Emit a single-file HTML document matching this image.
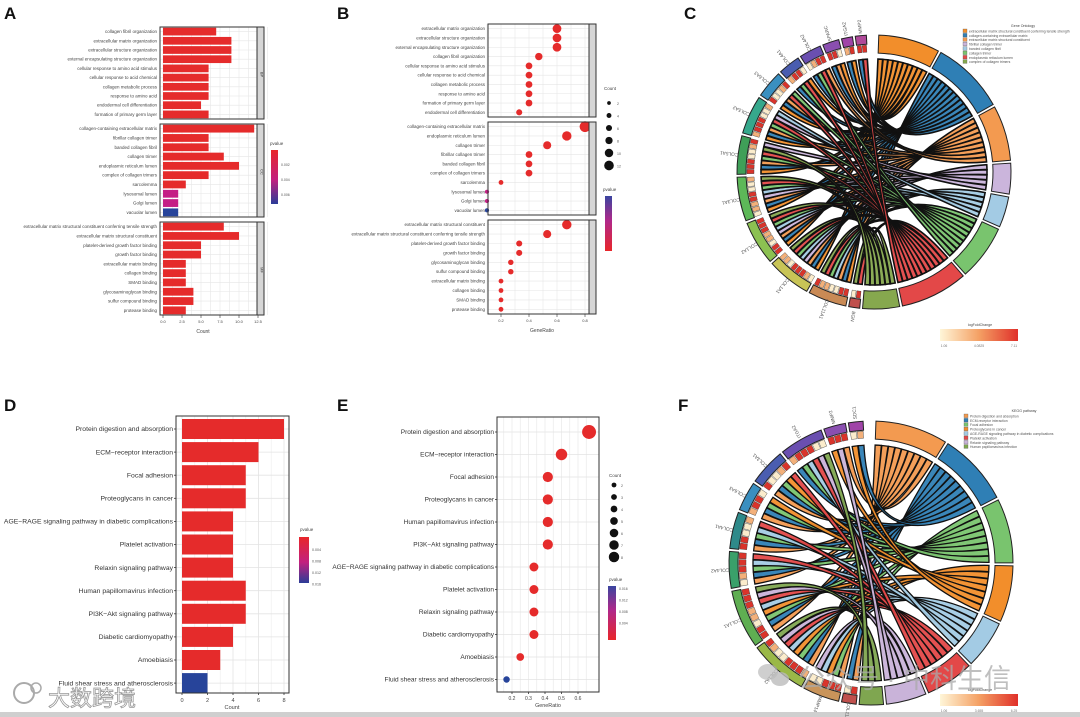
<!DOCTYPE html>
<html><head><meta charset="utf-8">
<style>
html,body{margin:0;padding:0;background:#fff;}
svg{display:block;font-family:"Liberation Sans","Noto Sans CJK SC",sans-serif;}
</style></head>
<body>
<svg id="fig" width="1080" height="717" viewBox="0 0 1080 717">
<defs>
<linearGradient id="gRB" x1="0" y1="0" x2="0" y2="1"><stop offset="0" stop-color="#e8262a"/><stop offset="0.55" stop-color="#c2207f"/><stop offset="1" stop-color="#2b3c97"/></linearGradient>
<linearGradient id="gBR" x1="0" y1="0" x2="0" y2="1"><stop offset="0" stop-color="#3a45a0"/><stop offset="0.45" stop-color="#b0288a"/><stop offset="1" stop-color="#e8262a"/></linearGradient>
<linearGradient id="gFC" x1="0" y1="0" x2="1" y2="0"><stop offset="0" stop-color="#fff6d8"/><stop offset="0.5" stop-color="#f4a064"/><stop offset="1" stop-color="#e0302a"/></linearGradient>
</defs>
<rect x="0" y="0" width="1080" height="717" fill="#fff"/>
<rect x="0" y="712" width="1080" height="5" fill="#cfcfcf"/>
<g font-weight="bold" font-size="17" fill="#111">
<text x="4" y="19">A</text>
<text x="337" y="19">B</text>
<text x="684" y="19">C</text>
<text x="4" y="411">D</text>
<text x="337" y="411">E</text>
<text x="678" y="411">F</text>
</g>
<g id="layer"></g>
</svg>
<script>
// ---------- DATA ----------
const aLabelsBP=["collagen fibril organization","extracellular matrix organization","extracellular structure organization","external encapsulating structure organization","cellular response to amino acid stimulus","cellular response to acid chemical","collagen metabolic process","response to amino acid","endodermal cell differentiation","formation of primary germ layer"];
const aValuesBP=[7,9,9,9,6,6,6,6,5,6];
const aLabelsCC=["collagen-containing extracellular matrix","fibrillar collagen trimer","banded collagen fibril","collagen trimer","endoplasmic reticulum lumen","complex of collagen trimers","sarcolemma","lysosomal lumen","Golgi lumen","vacuolar lumen"];
const aValuesCC=[12,6,6,8,10,6,3,2,2,2];
const aColorsCC=["r","r","r","r","r","r","r","m","m","b"];
const aLabelsMF=["extracellular matrix structural constituent conferring tensile strength","extracellular matrix structural constituent","platelet-derived growth factor binding","growth factor binding","extracellular matrix binding","collagen binding","SMAD binding","glycosaminoglycan binding","sulfur compound binding","protease binding"];
const aValuesMF=[8,10,5,5,3,3,3,4,4,3];
const aTicks=[0,2.5,5,7.5,10,12.5];
const aTickLabels=["0.0","2.5","5.0","7.5","10.0","12.5"];

const bLabelsBP=["extracellular matrix organization","extracellular structure organization","external encapsulating structure organization","collagen fibril organization","cellular response to amino acid stimulus","cellular response to acid chemical","collagen metabolic process","response to amino acid","formation of primary germ layer","endodermal cell differentiation"];
const bRatioBP=[0.6,0.6,0.6,0.47,0.4,0.4,0.4,0.4,0.4,0.33];
const bCountBP=[9,9,9,7,6,6,6,6,6,5];
const bLabelsCC=["collagen-containing extracellular matrix","endoplasmic reticulum lumen","collagen trimer","fibrillar collagen trimer","banded collagen fibril","complex of collagen trimers","sarcolemma","lysosomal lumen","Golgi lumen","vacuolar lumen"];
const bRatioCC=[0.8,0.67,0.53,0.4,0.4,0.4,0.2,0.1,0.1,0.1];
const bCountCC=[12,10,8,6,6,6,3,2,2,2];
const bColorsCC=["r","r","r","r","r","r","r","m","m","b"];
const bLabelsMF=["extracellular matrix structural constituent","extracellular matrix structural constituent conferring tensile strength","platelet-derived growth factor binding","growth factor binding","glycosaminoglycan binding","sulfur compound binding","extracellular matrix binding","collagen binding","SMAD binding","protease binding"];
const bRatioMF=[0.67,0.53,0.33,0.33,0.27,0.27,0.2,0.2,0.2,0.2];
const bCountMF=[10,8,5,5,4,4,3,3,3,3];
const bTicks=[0.2,0.4,0.6,0.8];

const dLabels=["Protein digestion and absorption","ECM\u2212receptor interaction","Focal adhesion","Proteoglycans in cancer","AGE\u2212RAGE signaling pathway in diabetic complications","Platelet activation","Relaxin signaling pathway","Human papillomavirus infection","PI3K\u2212Akt signaling pathway","Diabetic cardiomyopathy","Amoebiasis","Fluid shear stress and atherosclerosis"];
const dValues=[8,6,5,5,4,4,4,5,5,4,3,2];
const dColors=["r","r","r","r","r","r","r","r","r","r","r","b"];
const dTicks=[0,2,4,6,8];

const eLabels=["Protein digestion and absorption","ECM\u2212receptor interaction","Focal adhesion","Proteoglycans in cancer","Human papillomavirus infection","PI3K\u2212Akt signaling pathway","AGE\u2212RAGE signaling pathway in diabetic complications","Platelet activation","Relaxin signaling pathway","Diabetic cardiomyopathy","Amoebiasis","Fluid shear stress and atherosclerosis"];
const eRatio=[0.667,0.5,0.417,0.417,0.417,0.417,0.333,0.333,0.333,0.333,0.25,0.167];
const eCount=[8,6,5,5,5,5,4,4,4,4,3,2];
const eColors=["r","r","r","r","r","r","r","r","r","r","r","b"];
const eTicks=[0.2,0.3,0.4,0.5,0.6];

const cTermColors=["#f28e2b","#2f7fb5","#f39a50","#cbb5dc","#a3cbe4","#79c46e","#e34848","#86a84e"];
const cTermNames=["extracellular matrix structural constituent conferring tensile strength","collagen-containing extracellular matrix","extracellular matrix structural constituent","fibrillar collagen trimer","banded collagen fibril","collagen trimer","endoplasmic reticulum lumen","complex of collagen trimers"];
const cGenes=["BGN","COL11A1","COL1A1","COL1A2","COL3A1","COL5A1","COL5A2","COL6A3","COL4A1","COL4A2","SPARC","ITGA2","MMP2"];
const cGeneColors=["#c0504d","#c98a55","#c8c456","#8cc152","#5db858","#3f9f58","#36a88c","#3a8fc0","#4a5db0","#6a4fb0","#8a4fb0","#a044a8","#b04a9a"];
const cGeneTerms=[[6,7],[0,1,2,4,5,6,7],[0,1,2,3,4,5,6,7],[0,1,2,3,4,5,6,7],[0,1,2,3,4,5,6,7],[0,1,2,5,6,7,3],[0,1,2,5,6,3,4],[0,1,2,6,5],[1,5,6,0],[1,5,6,2],[1,2,0],[1,0],[1,6]];
const cLogFC=[0.9,0.7,0.3,0.8,0.2,0.6,0.4,0.9,0.5,0.3,0.7,0.5,0.8];

const fTermColors=["#f39a50","#2f7fb5","#79c46e","#f28e2b","#a3cbe4","#e34848","#c9b3d9","#7fa650"];
const fTermNames=["Protein digestion and absorption","ECM-receptor interaction","Focal adhesion","Proteoglycans in cancer","AGE-RAGE signaling pathway in diabetic complications","Platelet activation","Relaxin signaling pathway","Human papillomavirus infection"];
const fGenes=["COL11A1","MMP14","COL1A2","COL1A1","COL4A2","COL4A1","COL6A3","COL3A1","ITGA2","MMP2","SDC1"];
const fGeneColors=["#c0504d","#c9945a","#9ab848","#5fae52","#3aa06a","#2e8a8a","#3a8fc0","#4a5db0","#6a4fb0","#8a4fb0","#a044a8"];
const fGeneTerms=[[0,1],[0,2,3,4,6],[0,1,2,3,4,5,6,7],[0,1,2,3,4,5,6,7],[0,1,2,4,5],[0,1,2,4,5],[0,1,2,3],[0,1,2,3,5],[1,2,4,5,6,7],[3,6,0],[3,1]];
const fLogFC=[0.9,0.6,0.4,0.8,0.3,0.7,0.5,0.9,0.4,0.6,0.3];

// ---------- HELPERS ----------
const NS="http://www.w3.org/2000/svg";
const layer=document.getElementById("layer");
function mk(tag,attrs,parent){const e=document.createElementNS(NS,tag);for(const k in attrs)e.setAttribute(k,attrs[k]);(parent||layer).appendChild(e);return e;}
function txt(x,y,s,size,anchor,parent,fill){const t=mk("text",{x:x,y:y,"font-size":size,"text-anchor":anchor||"start",fill:fill||"#333"},parent);t.textContent=s;return t;}
const COL={r:"#e52b2b",m:"#c41f85",b:"#27449a"};

function panelA(){
  const g=mk("g",{});
  
  
  const x0=160,x1=257,xs=v=>163+v*7.6;
  const facets=[[27,119,aLabelsBP,aValuesBP,null,"BP"],[124,217,aLabelsCC,aValuesCC,aColorsCC,"CC"],[222,315,aLabelsMF,aValuesMF,null,"MF"]];
  facets.forEach(f=>{
    const [y0,y1,labs,vals,cols,nm]=f;
    const fg=mk("g",{},g);
    
    
    mk("rect",{x:x0,y:y0,width:x1-x0,height:y1-y0,fill:"#fff"},fg);
    for(let v=0;v<=13.75;v+=1.25){mk("line",{x1:xs(v),x2:xs(v),y1:y0,y2:y1,stroke:"#e6e6e6","stroke-width":0.6},fg);}
    const h=(y1-y0)/labs.length;
    labs.forEach((l,i)=>{
      const yc=y0+(i+0.5)*h;
      mk("line",{x1:x0,x2:x1,y1:yc,y2:yc,stroke:"#e6e6e6","stroke-width":0.6},fg);
      const r=mk("rect",{x:xs(0),y:yc-h*0.42,width:xs(vals[i])-xs(0),height:h*0.84,fill:COL[cols?cols[i]:"r"]},fg);
      
      
      txt(x0-3,yc+1.5,l,4.5,"end",fg,"#444");
    });
    mk("rect",{x:x0,y:y0,width:x1-x0,height:y1-y0,fill:"none",stroke:"#333","stroke-width":1},fg);
    mk("rect",{x:x1,y:y0,width:7,height:y1-y0,fill:"#d6d6d6",stroke:"#333","stroke-width":1},fg);
    const st=txt(x1+5,(y0+y1)/2,nm,4,"middle",fg,"#333");st.setAttribute("transform",`rotate(90 ${x1+3.5} ${(y0+y1)/2})`);
  });
  aTicks.forEach((t,i)=>{mk("line",{x1:xs(t),x2:xs(t),y1:315,y2:318,stroke:"#333","stroke-width":0.6},g);txt(xs(t),323,aTickLabels[i],4,"middle",g,"#444");});
  txt(203,333,"Count",5,"middle",g,"#444");
  txt(270,145,"pvalue",4.5,"start",g,"#444");
  const cb=mk("rect",{x:271,y:150,width:7,height:54,fill:"url(#gRB)"},g);
  
  ["0.002","0.004","0.006"].forEach((s,i)=>txt(281,166+i*15,s,3.5,"start",g,"#555"));
}

function panelB(){
  const g=mk("g",{});
  
  
  const x0=488,x1=589,xs=v=>501+(v-0.2)*140;
  const rs=c=>1.4+c*0.33;
  const facets=[[24,117,bLabelsBP,bRatioBP,bCountBP,null,"BP"],[122,215,bLabelsCC,bRatioCC,bCountCC,bColorsCC,"CC"],[220,314,bLabelsMF,bRatioMF,bCountMF,null,"MF"]];
  facets.forEach(f=>{
    const [y0,y1,labs,rat,cnt,cols,nm]=f;
    const fg=mk("g",{},g);
    
    
    for(let v=0.1;v<=0.85;v+=0.1){mk("line",{x1:xs(v),x2:xs(v),y1:y0,y2:y1,stroke:"#e6e6e6","stroke-width":0.6},fg);}
    const h=(y1-y0)/labs.length;
    labs.forEach((l,i)=>{
      const yc=y0+(i+0.5)*h;
      mk("line",{x1:x0,x2:x1,y1:yc,y2:yc,stroke:"#e6e6e6","stroke-width":0.6},fg);
      const c=mk("circle",{cx:xs(rat[i]),cy:yc,r:rs(cnt[i]),fill:COL[cols?cols[i]:"r"]},fg);
      
      
      txt(x0-3,yc+1.5,l,4.5,"end",fg,"#444");
    });
    mk("rect",{x:x0,y:y0,width:x1-x0,height:y1-y0,fill:"none",stroke:"#333","stroke-width":1},fg);
    mk("rect",{x:x1,y:y0,width:7,height:y1-y0,fill:"#d6d6d6",stroke:"#333","stroke-width":1},fg);
  });
  bTicks.forEach(t=>{mk("line",{x1:xs(t),x2:xs(t),y1:314,y2:317,stroke:"#333","stroke-width":0.6},g);txt(xs(t),322,t.toFixed(1),4,"middle",g,"#444");});
  txt(542,332,"GeneRatio",5,"middle",g,"#444");
  txt(604,90,"Count",4.5,"start",g,"#444");
  [2,4,6,8,10,12].forEach((c,i)=>{mk("circle",{cx:609,cy:103+i*12.5,r:rs(c)*0.9,fill:"#111"},g);txt(617,105+i*12.5,String(c),3.5,"start",g,"#555");});
  txt(603,191,"pvalue",4.5,"start",g,"#444");
  const cb=mk("rect",{x:605,y:196,width:7,height:55,fill:"url(#gBR)"},g);
  
}

function panelD(){
  const g=mk("g",{});
  
  
  const x0=176,x1=289,y0=416,y1=693,xs=v=>182+v*12.75;
  const ys=i=>429+i*23.1;
  for(let v=0;v<=8.5;v+=1){mk("line",{x1:xs(v),x2:xs(v),y1:y0,y2:y1,stroke:v%2?"#f0f0f0":"#e3e3e3","stroke-width":0.8},g);}
  dLabels.forEach((l,i)=>{
    mk("line",{x1:x0,x2:x1,y1:ys(i),y2:ys(i),stroke:"#e3e3e3","stroke-width":0.8},g);
    const r=mk("rect",{x:xs(0),y:ys(i)-10,width:xs(dValues[i])-xs(0),height:20,fill:COL[dColors[i]]},g);
    
    
    mk("line",{x1:x0-2,x2:x0,y1:ys(i),y2:ys(i),stroke:"#333","stroke-width":0.8},g);
    txt(x0-3,ys(i)+2.2,l,6.8,"end",g,"#333");
  });
  mk("rect",{x:x0,y:y0,width:x1-x0,height:y1-y0,fill:"none",stroke:"#333","stroke-width":1},g);
  dTicks.forEach(t=>{mk("line",{x1:xs(t),x2:xs(t),y1:y1,y2:y1+2,stroke:"#333","stroke-width":0.8},g);txt(xs(t),y1+9,String(t),5.6,"middle",g,"#444");});
  txt(232,709,"Count",5.6,"middle",g,"#444");
  txt(300,531,"pvalue",4.5,"start",g,"#444");
  const cb=mk("rect",{x:299,y:537,width:10,height:46,fill:"url(#gRB)"},g);
  
  ["0.004","0.008","0.012","0.016"].forEach((s,i)=>txt(312,551+i*11.5,s,3.6,"start",g,"#555"));
}

function panelE(){
  const g=mk("g",{});
  
  
  const x0=497,x1=599,y0=417,y1=692,xs=v=>512+(v-0.2)*165;
  const ys=i=>432+i*22.5, rs=c=>2+c*0.62;
  for(let v=0.15;v<=0.7;v+=0.05){mk("line",{x1:xs(v),x2:xs(v),y1:y0,y2:y1,stroke:"#e8e8e8","stroke-width":0.7},g);}
  eLabels.forEach((l,i)=>{
    mk("line",{x1:x0,x2:x1,y1:ys(i),y2:ys(i),stroke:"#e3e3e3","stroke-width":0.8},g);
    const c=mk("circle",{cx:xs(eRatio[i]),cy:ys(i),r:rs(eCount[i]),fill:COL[eColors[i]]},g);
    
    
    mk("line",{x1:x0-2,x2:x0,y1:ys(i),y2:ys(i),stroke:"#333","stroke-width":0.8},g);
    txt(x0-3,ys(i)+2.2,l,6.5,"end",g,"#333");
  });
  mk("rect",{x:x0,y:y0,width:x1-x0,height:y1-y0,fill:"none",stroke:"#333","stroke-width":1},g);
  eTicks.forEach(t=>{mk("line",{x1:xs(t),x2:xs(t),y1:y1,y2:y1+2,stroke:"#333","stroke-width":0.8},g);txt(xs(t),y1+8,t.toFixed(1),5,"middle",g,"#444");});
  txt(548,707,"GeneRatio",5.4,"middle",g,"#444");
  txt(609,477,"Count",4.5,"start",g,"#444");
  [2,3,4,5,6,7,8].forEach((c,i)=>{mk("circle",{cx:614,cy:485+i*12,r:rs(c)*0.75,fill:"#111"},g);txt(621,487+i*12,String(c),3.5,"start",g,"#555");});
  txt(609,581,"pvalue",4.5,"start",g,"#444");
  const cb=mk("rect",{x:608,y:586,width:8,height:54,fill:"url(#gBR)"},g);
  
  ["0.016","0.012","0.008","0.004"].forEach((s,i)=>txt(619,590+i*11.5,s,3.5,"start",g,"#555"));
}

function pol(cx,cy,r,d){const a=d*Math.PI/180;return [cx+r*Math.sin(a),cy-r*Math.cos(a)];}
function arcPath(cx,cy,r0,r1,a0,a1){
  const p0=pol(cx,cy,r1,a0),p1=pol(cx,cy,r1,a1),p2=pol(cx,cy,r0,a1),p3=pol(cx,cy,r0,a0);const L=(a1-a0)>180?1:0;
  return `M${p0}A${r1} ${r1} 0 ${L} 1 ${p1}L${p2}A${r0} ${r0} 0 ${L} 0 ${p3}Z`;
}
function chord(cfg){
  const {cx,cy,R,genes,gcols,gterms,tcols,logfc,name}=cfg;
  const g=mk("g",{});
  
  
  const nT=tcols.length;
  const tCount=new Array(nT).fill(0);gterms.forEach(l=>l.forEach(t=>tCount[t]++));
  const totT=tCount.reduce((a,b)=>a+b,0), totG=gterms.reduce((a,l)=>a+l.length,0);
  const gap=1.2;
  const tSpan=184-gap*nT, gSpan=172-gap*genes.length;
  const tStart=[];let a=2;
  tCount.forEach(c=>{tStart.push(a);a+=c/totT*tSpan+gap;});
  const tUnit=tSpan/totT;
  const gStart=[];a=186;
  gterms.forEach(l=>{gStart.push(a);a+=l.length/totG*gSpan+gap;});
  const gUnit=gSpan/totG;
  const rIn=R-24, rW=R-21;
  const tFill=new Array(nT).fill(0);
  const ribbons=mk("g",{},g);
  
  
  gterms.forEach((l,gi)=>{
    l.forEach((t,k)=>{
      const a0=gStart[gi]+k*gUnit,a1=a0+gUnit*0.92;
      const b0=tStart[t]+tFill[t]*tUnit,b1=b0+tUnit*0.92;tFill[t]++;
      const pA0=pol(cx,cy,rIn,a0),pA1=pol(cx,cy,rIn,a1),pB0=pol(cx,cy,rIn,b0),pB1=pol(cx,cy,rIn,b1);
      const d=`M${pA0}A${rIn} ${rIn} 0 0 1 ${pA1}Q${cx} ${cy} ${pB0}A${rIn} ${rIn} 0 0 1 ${pB1}Q${cx} ${cy} ${pA0}Z`;
      const p=mk("path",{d:d,fill:tcols[t],stroke:"#111","stroke-width":cfg.sw,"fill-opacity":0.95},ribbons);
      
      
    });
  });
  mk("circle",{cx:cx,cy:cy,r:rW,fill:"none",stroke:"#fff","stroke-width":3.5},g);
  tCount.forEach((c,i)=>{
    const s=mk("path",{d:arcPath(cx,cy,R-18,R,tStart[i],tStart[i]+c*tUnit),fill:tcols[i],stroke:"#222","stroke-width":1},g);
    
    
  });
  gterms.forEach((l,gi)=>{
    const a0=gStart[gi],a1=a0+l.length*gUnit;
    const s=mk("path",{d:arcPath(cx,cy,R-9,R,a0,a1),fill:gcols[gi],stroke:"#222","stroke-width":1},g);
    
    
    l.forEach((t,k)=>{
      const b0=a0+k*gUnit;
      const v=(logfc[gi]+k*0.17)%1;
      const col=v>0.55?"#d9342b":(v>0.3?"#f3b07a":"#fbeccc");
      mk("path",{d:arcPath(cx,cy,R-17,R-10,b0+0.2,b0+gUnit-0.2),fill:col,stroke:"#333","stroke-width":0.4},g);
    });
    const mid=(a0+a1)/2,p=pol(cx,cy,R+9,mid);
    const rot=mid-90;
    const t=txt(p[0],p[1]+1.5,genes[gi],4.8,"middle",g,"#555");
    t.setAttribute("transform",`rotate(${rot} ${p[0]} ${p[1]})`);
  });
}

panelA();panelB();panelD();panelE();
chord({cx:874,cy:172,R:137,genes:cGenes,gcols:cGeneColors,gterms:cGeneTerms,tcols:cTermColors,logfc:cLogFC,sw:1.6,name:"go-chord-diagram"});
chord({cx:871,cy:563,R:142,genes:fGenes,gcols:fGeneColors,gterms:fGeneTerms,tcols:fTermColors,logfc:fLogFC,sw:1.3,name:"kegg-chord-diagram"});

function chordLegend(x,y,title,names,cols,nm){
  const g=mk("g",{});
  
  
  txt(x+60,y,title,3.6,"middle",g,"#444");
  names.forEach((n,i)=>{mk("rect",{x:x,y:y+2+i*4.4,width:4,height:3.6,fill:cols[i],stroke:"#555","stroke-width":0.3},g);txt(x+6,y+5.4+i*4.4,n,3.4,"start",g,"#555");});
}
chordLegend(963,27,"Gene Ontology",cTermNames,cTermColors,"go-chord-legend");
chordLegend(964,412,"KEGG pathway",fTermNames,fTermColors,"kegg-chord-legend");
function fcBar(x,y,nm,labs){
  const g=mk("g",{});
  
  
  txt(x+40,y-3,"logFoldChange",3.6,"middle",g,"#444");
  mk("rect",{x:x,y:y,width:78,height:12,fill:"url(#gFC)"},g);
  labs.forEach((s,i)=>txt(x+4+i*35,y+18,s,3.4,"middle",g,"#777"));
}
fcBar(940,329,"logfc-colorbar-c",["1.06","4.0825","7.11"]);
fcBar(940,694,"logfc-colorbar-f",["1.06","3.655","6.25"]);

const w1=txt(48,706,"大数跨境",22,"start",layer,"#fff");
w1.setAttribute("stroke","#999");w1.setAttribute("stroke-width","0.8");


const ic=mk("g",{});


mk("circle",{cx:24,cy:693,r:10,fill:"none",stroke:"#aaa","stroke-width":2},ic);
mk("circle",{cx:36,cy:688,r:5,fill:"none",stroke:"#aaa","stroke-width":1.5},ic);
mk("ellipse",{cx:768,cy:672,rx:10,ry:8,fill:"#bbb","fill-opacity":0.7},ic);
mk("ellipse",{cx:780,cy:679,rx:9,ry:7,fill:"#bbb","fill-opacity":0.8},ic);
const w2=txt(798,688,"公众号 · 中科生信",27,"start",layer,"#aaa");
w2.setAttribute("fill-opacity","0.75");


</script>
</body></html>
